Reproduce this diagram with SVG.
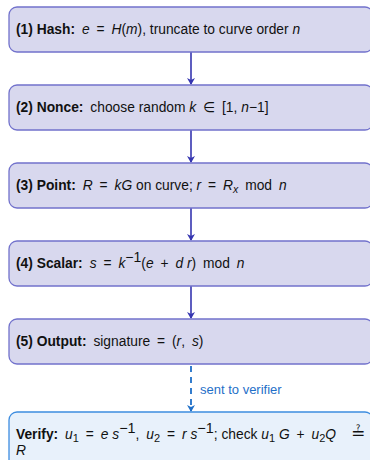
<svg xmlns="http://www.w3.org/2000/svg" width="370" height="460" viewBox="0 0 370 460">
<style>
.box{fill:#d8d8ee;stroke:#7272cc;stroke-width:1.3}
.vbox{fill:#e8f1fb;stroke:#3d8de0;stroke-width:1.3}
text{font-family:"Liberation Sans","DejaVu Sans",sans-serif;font-size:13.8px;fill:#111}
.b{font-weight:bold}
.i{font-style:italic}
.lbl{fill:#1f6fc8;font-size:13px}
.arr{stroke:#3535b0;stroke-width:1.6;fill:none}
.darr{stroke:#1f6fc8;stroke-width:1.8;fill:none;stroke-dasharray:6,5}
</style>
<defs>
<marker id="ah" markerWidth="8" markerHeight="8" refX="6" refY="4" orient="auto" markerUnits="userSpaceOnUse">
<path d="M0,0 L7,4 L0,8 L2,4 Z" fill="#3535b0"/>
</marker>
<marker id="ahb" markerWidth="8" markerHeight="8" refX="6" refY="4" orient="auto" markerUnits="userSpaceOnUse">
<path d="M0,0 L7,4 L0,8 L2,4 Z" fill="#1f6fc8"/>
</marker>
</defs>
<g id="connectors">
<line class="arr" x1="191" y1="52" x2="191" y2="84" marker-end="url(#ah)"/>
<line class="arr" x1="191" y1="130" x2="191" y2="162" marker-end="url(#ah)"/>
<line class="arr" x1="191" y1="208" x2="191" y2="240" marker-end="url(#ah)"/>
<line class="arr" x1="191" y1="286" x2="191" y2="318" marker-end="url(#ah)"/>
<line class="darr" x1="191" y1="366" x2="191" y2="411" marker-end="url(#ahb)"/>
<text class="lbl" x="200" y="394">sent to verifier</text>
</g>
<g id="n1">
<rect class="box" x="9" y="7" width="364" height="45" rx="8"/>
<text x="16" y="34"><tspan class="b">(1) Hash:</tspan>&#8194;<tspan class="i">e</tspan>&#8194;=&#8194;<tspan class="i">H</tspan>(<tspan class="i">m</tspan>), truncate to curve order <tspan class="i">n</tspan></text>
</g>
<g id="n2">
<rect class="box" x="9" y="85" width="364" height="45" rx="8"/>
<text x="16" y="112"><tspan class="b">(2) Nonce:</tspan>&#8194;choose random <tspan class="i">k</tspan>&#8194;∈&#8194;[1, <tspan class="i">n</tspan>−1]</text>
</g>
<g id="n3">
<rect class="box" x="9" y="163" width="364" height="45" rx="8"/>
<text x="16" y="190"><tspan class="b">(3) Point:</tspan>&#8194;<tspan class="i">R</tspan>&#8194;=&#8194;<tspan class="i">kG</tspan> on curve; <tspan class="i">r</tspan>&#8194;=&#8194;<tspan class="i">R</tspan><tspan class="i" font-size="10.5" dy="3">x</tspan><tspan dy="-3">&#8194;mod&#8194;</tspan><tspan class="i">n</tspan></text>
</g>
<g id="n4">
<rect class="box" x="9" y="241" width="364" height="45" rx="8"/>
<text x="16" y="268"><tspan class="b">(4) Scalar:</tspan>&#8194;<tspan class="i">s</tspan>&#8194;=&#8194;<tspan class="i">k</tspan><tspan font-size="14" dy="-6">−1</tspan><tspan dy="6">(</tspan><tspan class="i">e</tspan>&#8194;+&#8194;<tspan class="i">d r</tspan>)&#8194;mod&#8194;<tspan class="i">n</tspan></text>
</g>
<g id="n5">
<rect class="box" x="9" y="319" width="364" height="45" rx="8"/>
<text x="16" y="346"><tspan class="b">(5) Output:</tspan>&#8194;signature&#8194;=&#8194;(<tspan class="i">r</tspan>,&#8194;<tspan class="i">s</tspan>)</text>
</g>
<g id="verify">
<rect class="vbox" x="9" y="412" width="364" height="60" rx="8"/>
<text x="16" y="439" font-size="14.4"><tspan class="b">Verify:</tspan>&#8194;<tspan class="i">u</tspan><tspan font-size="11" dy="3">1</tspan><tspan dy="-3">&#8194;=&#8194;</tspan><tspan class="i">e s</tspan><tspan font-size="14.4" dy="-6">−1</tspan><tspan dy="6">,&#8194;</tspan><tspan class="i">u</tspan><tspan font-size="11" dy="3">2</tspan><tspan dy="-3">&#8194;=&#8194;</tspan><tspan class="i">r s</tspan><tspan font-size="14.4" dy="-6">−1</tspan><tspan dy="6">; check </tspan><tspan class="i">u</tspan><tspan font-size="11" dy="3">1</tspan><tspan class="i" dy="-3"> G</tspan>&#8194;+&#8194;<tspan class="i">u</tspan><tspan font-size="11" dy="3">2</tspan><tspan class="i" dy="-3">Q</tspan><tspan x="351" font-size="17" font-family="DejaVu Sans, sans-serif">≟</tspan></text>
<text class="i" x="16" y="455" font-size="14.4">R</text>
</g>
</svg>
